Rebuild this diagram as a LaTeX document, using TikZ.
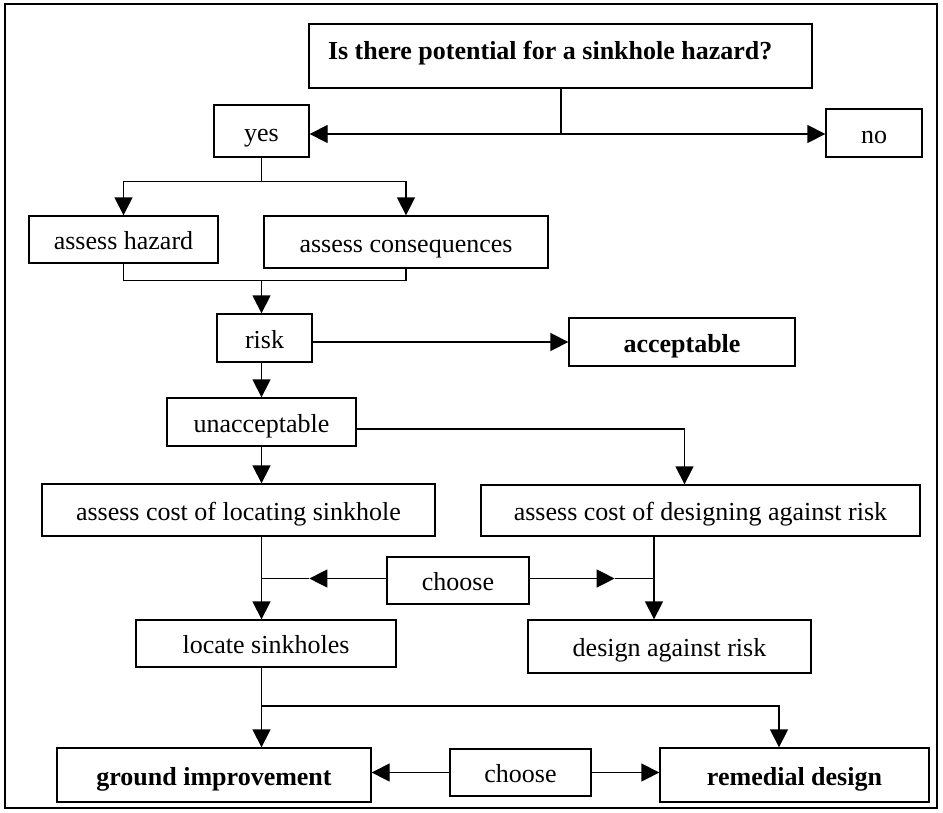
\documentclass[tikz,border=0pt]{standalone}
\usepackage{fontspec}
\setmainfont{Liberation Serif}
\usetikzlibrary{arrows.meta}

\begin{document}
\begin{tikzpicture}[
        x=1pt, y=-1pt,
        box/.style={draw, line width=1.3pt, inner sep=0pt, align=center, text height=20pt, text depth=0pt, font=\fontsize{26pt}{30pt}\selectfont},
        keybox/.style={box, font=\fontsize{26pt}{30pt}\selectfont\bfseries},
        link/.style={line width=1.3pt},
        arrow/.style={link, -{Triangle[length=18pt, width=18pt]}}
    ]
        \useasboundingbox (0,0) rectangle (943,812);
        \draw[line width=1.2pt] (5,4) rectangle (937,808);

        % decision
        \node[keybox, minimum width=503pt, minimum height=64pt, text height=13pt, text depth=6pt] (question) at (560.5,56) {\makebox[465pt][l]{Is there potential for a sinkhole hazard?}};
        \node[box, minimum width=95pt, minimum height=52pt] (yes) at (261.5,131) {yes};
        \node[box, minimum width=96pt, minimum height=48pt] (no) at (874,133) {no};

        % assessment
        \node[box, minimum width=189pt, minimum height=47pt] (hazard) at (123.5,239.5) {assess hazard};
        \node[box, minimum width=284pt, minimum height=52pt] (conseq) at (406,242) {assess consequences};
        \node[box, minimum width=95pt, minimum height=48pt] (risk) at (264.5,338) {risk};
        \node[keybox, minimum width=226pt, minimum height=48pt] (accept) at (682,342) {acceptable};
        \node[box, minimum width=189pt, minimum height=48pt] (unaccept) at (261.5,422) {unacceptable};

        % costs
        \node[box, minimum width=393pt, minimum height=52pt] (loccost) at (238.5,510) {assess cost of locating sinkhole};
        \node[box, minimum width=439pt, minimum height=51pt] (descost) at (700.5,510.5) {assess cost of designing against risk};
        \node[box, minimum width=142pt, minimum height=47pt] (choosea) at (458,580.5) {choose};
        \node[box, minimum width=260pt, minimum height=47pt] (locate) at (266,643.5) {locate sinkholes};
        \node[box, minimum width=283pt, minimum height=53pt] (designrisk) at (669.5,646.5) {design against risk};

        % outcome
        \node[keybox, minimum width=314pt, minimum height=54pt] (ground) at (214,775) {ground improvement};
        \node[box, minimum width=141pt, minimum height=47pt] (chooseb) at (520.5,772.5) {choose};
        \node[keybox, minimum width=269pt, minimum height=54pt] (remedial) at (794.5,775) {remedial design};

        \coordinate (split) at (561,134);
        \draw[link] (question.south -| split) -- (split);
        \draw[arrow] (split) -- (split -| yes.east);
        \draw[arrow] (split) -- (split -| no.west);

        \draw[link] (yes.south) -- ++(0,24) coordinate (yesfork);
        \draw[arrow] (yesfork) -| (hazard.north);
        \draw[arrow] (yesfork) -| (conseq.north);

        \draw[link] (hazard.south) -- ++(0,17) coordinate (merge) -| (conseq.south);
        \draw[arrow] (merge -| unaccept.north) -- (unaccept.north |- risk.north);
        \draw[arrow] (risk.east |- accept.west) -- (accept.west);
        \draw[arrow] (unaccept.north |- risk.south) -- (unaccept.north);

        \draw[arrow] (unaccept.south) -- (unaccept.south |- loccost.north);
        \draw[arrow] ([yshift=-7pt]unaccept.east) -| ([xshift=-16pt]descost.north);

        \coordinate (rightcol) at ([xshift=-15.5pt]designrisk.north);
        \draw[arrow] (unaccept.south |- loccost.south) -- (unaccept.south |- locate.north);
        \draw[arrow] (rightcol |- descost.south) -- (rightcol);
        \draw[arrow] ([yshift=2pt]choosea.west) -- ++(-77,0) coordinate (tipl);
        \draw[link] (tipl) -- (tipl -| unaccept.south);
        \draw[arrow] ([yshift=2pt]choosea.east) -- ++(85,0) coordinate (tipr);
        \draw[link] (tipr) -- (tipr -| rightcol);

        \coordinate (lowfork) at (unaccept.south |- 0,706);
        \draw[arrow] (unaccept.south |- locate.south) -- (unaccept.south |- ground.north);
        \draw[arrow] (lowfork) -| ([xshift=-15.5pt]remedial.north);
        \draw[arrow] (chooseb.west) -- (chooseb.west -| ground.east);
        \draw[arrow] (chooseb.east) -- (chooseb.east -| remedial.west);
    \end{tikzpicture}
\end{document}
